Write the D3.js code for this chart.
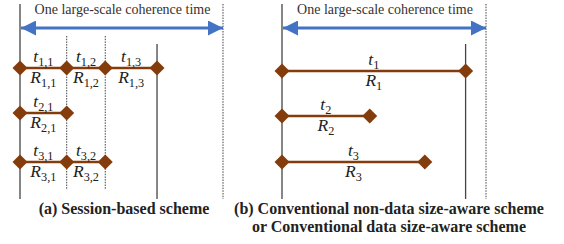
<!DOCTYPE html>
<html>
<head>
<meta charset="utf-8">
<script src="https://cdn.jsdelivr.net/npm/d3@7"></script>
<style>
  body { margin: 0; background: #fff; }
</style>
</head>
<body>
<svg id="fig" width="564" height="244"></svg>
<script>
// fractions of one large-scale coherence time
const sessionEnd = 0.675;
const sessionCuts = [0.23, 0.42];
const sessionRows = [[0, 0.23, 0.42, 0.675], [0, 0.23], [0, 0.23, 0.42]];
const convEnd = 0.90;
const convRows = [[0, 0.90], [0, 0.43], [0, 0.70]];
const rowNames = ["1", "2", "3"];
const topLabel = "One large-scale coherence time";
const captionA = ["(a) Session-based scheme"];
const captionB = ["(b) Conventional non-data size-aware scheme", "or Conventional data size-aware scheme"];

const svg = d3.select("#fig");
const brown = "#843c0c";
const blue = "#4472c4";
const serif = "Liberation Serif";

// arrow heads
const defs = svg.append("defs");
["s", "e"].forEach(k => {
    defs.append("marker")
        .attr("id", "arr" + k)
        .attr("viewBox", "0 0 10 10")
        .attr("refX", 10).attr("refY", 5)
        .attr("markerWidth", 5).attr("markerHeight", 5)
        .attr("markerUnits", "strokeWidth")
        .attr("orient", "auto-start-reverse")
        .append("path")
        .attr("d", "M0,0L10,5L0,10Z")
        .attr("fill", blue);
});

function label(g, x, y, main, sub, size) {
    let t = g.append("text")
        .attr("x", x).attr("y", y)
        .attr("text-anchor", "middle")
        .attr("font-family", serif)
        .attr("fill", "#222");
    t.append("tspan").text(main)
        .attr("font-style", "italic")
        .attr("font-size", size);
    t.append("tspan").text(sub)
        .attr("font-size", size * 0.7)
        .attr("dy", 3.5);
}

function panel(x0, x1, rowsY, rows, cuts, end, subFn, tOff, rOff, captions, capX) {
    let x = d3.scaleLinear().domain([0, 1]).range([x0, x1]);
    let g = svg.append("g");

    // frame lines
    g.append("line").attr("x1", x(0)).attr("x2", x(0)).attr("y1", 4).attr("y2", 199)
        .attr("stroke", "#444").attr("stroke-width", 1.3);
    g.append("line").attr("x1", x(1)).attr("x2", x(1)).attr("y1", 4).attr("y2", 199)
        .attr("stroke", "#444").attr("stroke-width", 1).attr("stroke-dasharray", "1.5,1.2");
    g.append("line").attr("x1", x(end)).attr("x2", x(end)).attr("y1", 44).attr("y2", 199)
        .attr("stroke", "#444").attr("stroke-width", 1.3);
    g.selectAll("line.cut").data(cuts).enter().append("line")
        .attr("class", "cut")
        .attr("x1", d => x(d)).attr("x2", d => x(d))
        .attr("y1", 36).attr("y2", 190)
        .attr("stroke", "#444").attr("stroke-width", 1).attr("stroke-dasharray", "1.5,1.2");

    // coherence time arrow
    g.append("line")
        .attr("x1", x(0) + 1).attr("x2", x(1))
        .attr("y1", 28).attr("y2", 28)
        .attr("stroke", blue).attr("stroke-width", 3)
        .attr("marker-start", "url(#arrs)")
        .attr("marker-end", "url(#arre)");
    g.append("text")
        .attr("x", (x(0) + x(1)) / 2 + 1).attr("y", 14)
        .attr("text-anchor", "middle")
        .attr("font-family", serif)
        .attr("font-size", 14)
        .attr("fill", "#333")
        .text(topLabel);

    rows.forEach((pts, i) => {
        let y = rowsY[i];
        g.append("line")
            .attr("x1", x(pts[0])).attr("x2", x(pts[pts.length - 1]))
            .attr("y1", y).attr("y2", y)
            .attr("stroke", brown).attr("stroke-width", 2.5);
        g.selectAll(null).data(pts).enter().append("path")
            .attr("transform", d => `translate(${x(d)},${y})`)
            .attr("d", "M0,-7.5L7.5,0L0,7.5L-7.5,0Z")
            .attr("fill", brown);
        for (let j = 0; j < pts.length - 1; j++) {
            let cx = (x(pts[j]) + x(pts[j + 1])) / 2;
            let sub = subFn(i, j);
            label(g, cx, y + tOff, "t", sub, 17.5);
            label(g, cx, y + rOff, "R", sub, 17.5);
        }
    });

    captions.forEach((c, k) => {
        g.append("text")
            .attr("x", capX).attr("y", 214 + k * 17.5)
            .attr("text-anchor", "middle")
            .attr("font-family", serif)
            .attr("font-weight", "bold")
            .attr("font-size", 16)
            .attr("fill", "#222")
            .text(c);
    });
}

panel(20, 223, [68, 113, 162], sessionRows, sessionCuts, sessionEnd,
    (i, j) => rowNames[i] + "," + (j + 1), -6, 15, captionA, 124);
panel(282, 486, [71, 116, 162], convRows, [], convEnd,
    (i, j) => rowNames[i], -6, 15, captionB, 389);
</script>
</body>
</html>
